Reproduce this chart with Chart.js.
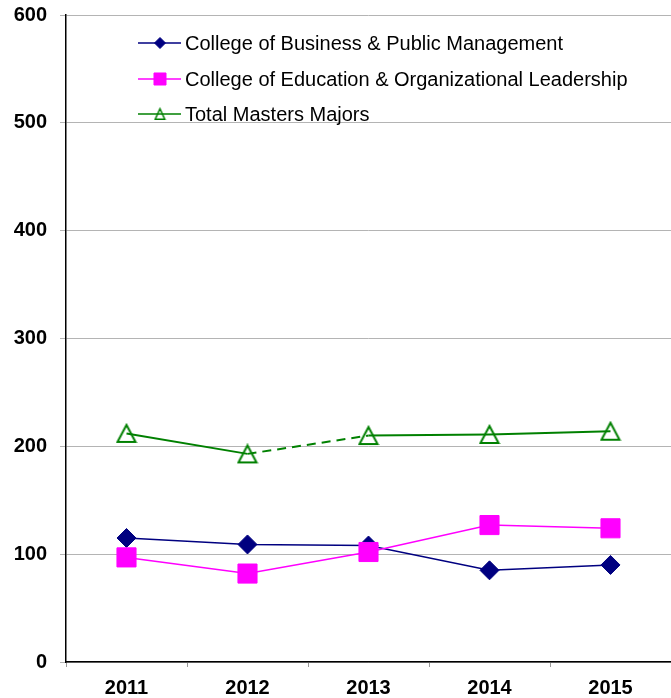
<!DOCTYPE html>
<html>
<head>
<meta charset="utf-8">
<script src="https://cdn.jsdelivr.net/npm/chart.js@4/dist/chart.umd.min.js"></script>
<style>
  html, body { margin: 0; padding: 0; background: #fff; }
  #wrap { width: 671px; height: 698px; }
</style>
</head>
<body>
<div id="wrap"><canvas id="lineChart" width="671" height="698"></canvas></div>
<script>
const years = ["2011", "2012", "2013", "2014", "2015"];
const businessValues = [115, 109, 108, 85, 90];
const educationValues = [97, 82, 102, 127, 124];
const totalValues = [212, 193, 210, 211, 214];
const yTicks = [0, 100, 200, 300, 400, 500, 600];

const FONT = "'Liberation Sans', Arial, sans-serif";

// open triangle marker, centred on its box like the original
function makeTriangle(w, h, color, lw) {
  const c = document.createElement("canvas");
  c.width = w + 2;
  c.height = h + 2;
  const g = c.getContext("2d");
  g.strokeStyle = color;
  g.lineWidth = lw;
  g.lineJoin = "miter";
  g.beginPath();
  g.moveTo(c.width / 2, 1 + lw / 2);
  g.lineTo(c.width - 1 - lw / 2, c.height - 1 - lw / 2);
  g.lineTo(1 + lw / 2, c.height - 1 - lw / 2);
  g.closePath();
  g.stroke();
  return c;
}

const bigTriangle = makeTriangle(20, 19, "#008000", 2);
const smallTriangle = makeTriangle(11, 12, "#008000", 1.5);

// legend drawn inside the plot, top left, like the original
const insideLegend = {
  id: "insideLegend",
  afterDraw(chart) {
    const ctx = chart.ctx;
    const x0 = 138;
    const rows = [43, 79, 114];
    ctx.save();
    chart.data.datasets.forEach((ds, i) => {
      const y = rows[i];
      ctx.strokeStyle = ds.borderColor;
      ctx.lineWidth = 1.5;
      ctx.setLineDash([]);
      ctx.beginPath();
      ctx.moveTo(x0, y);
      ctx.lineTo(x0 + 43, y);
      ctx.stroke();
      if (ds.legendImage) {
        const im = ds.legendImage;
        ctx.drawImage(im, x0 + 22 - im.width / 2, y - im.height / 2);
      } else {
        ctx.fillStyle = ds.pointBackgroundColor;
        ctx.strokeStyle = ds.pointBorderColor;
        ctx.lineWidth = 1;
        Chart.helpers.drawPoint(ctx, {
          pointStyle: ds.pointStyle,
          radius: ds.legendRadius,
          rotation: 0,
          borderWidth: 1,
        }, x0 + 22, y);
      }
      ctx.fillStyle = "#000";
      ctx.font = "20px " + FONT;
      ctx.textBaseline = "middle";
      ctx.textAlign = "left";
      ctx.fillText(ds.label, 185, y + 1);
    });
    ctx.restore();
  },
};

const ctx = document.getElementById("lineChart").getContext("2d");

new Chart(ctx, {
  type: "line",
  data: {
    labels: years,
    datasets: [
      {
        label: "College of Business & Public Management",
        data: businessValues,
        order: 3,
        borderColor: "#000080",
        backgroundColor: "#000080",
        borderWidth: 1.5,
        pointStyle: "rectRot",
        pointRadius: 9.5,
        pointBackgroundColor: "#000080",
        pointBorderColor: "#000080",
        pointBorderWidth: 1,
        legendRadius: 5.5,
      },
      {
        label: "College of Education & Organizational Leadership",
        data: educationValues,
        order: 2,
        borderColor: "#FF00FF",
        backgroundColor: "#FF00FF",
        borderWidth: 1.5,
        pointStyle: "rect",
        pointRadius: 13.5,
        pointBackgroundColor: "#FF00FF",
        pointBorderColor: "#FF00FF",
        pointBorderWidth: 1,
        legendRadius: 8.5,
      },
      {
        label: "Total Masters Majors",
        data: totalValues,
        order: 1,
        borderColor: "#008000",
        backgroundColor: "rgba(0,0,0,0)",
        borderWidth: 2,
        pointStyle: bigTriangle,
        pointRadius: 10,
        legendImage: smallTriangle,
        segment: {
          borderDash: (c) => (c.p0DataIndex === 1 ? [9, 6] : undefined),
        },
      },
    ],
  },
  options: {
    responsive: false,
    animation: false,
    layout: { autoPadding: false, padding: { top: 15, right: 0, left: 0, bottom: 0 } },
    plugins: {
      legend: { display: false },
      tooltip: { enabled: false },
    },
    scales: {
      x: {
        offset: true,
        grid: {
          offset: true,
          drawOnChartArea: false,
          drawTicks: true,
          tickLength: 5,
          color: "#999",
        },
        border: { color: "#000", width: 1.5 },
        ticks: {
          color: "#000",
          padding: 9,
          font: { family: FONT, size: 20, weight: "bold" },
        },
        afterFit(scale) {
          scale.height = 36;
          scale.paddingLeft = 0;
          scale.paddingRight = 0;
        },
      },
      y: {
        min: 0,
        max: 600,
        afterBuildTicks(scale) {
          scale.ticks = yTicks.map((v) => ({ value: v }));
        },
        grid: {
          color: "#b4b4b4",
          lineWidth: 1,
          drawTicks: true,
          tickLength: 6,
        },
        border: { color: "#000", width: 1.5 },
        ticks: {
          color: "#000",
          padding: 13,
          font: { family: FONT, size: 20, weight: "bold" },
        },
        afterFit(scale) {
          scale.width = 66;
          scale.paddingTop = 0;
          scale.paddingBottom = 0;
        },
      },
    },
  },
  plugins: [insideLegend],
});
</script>
</body>
</html>
